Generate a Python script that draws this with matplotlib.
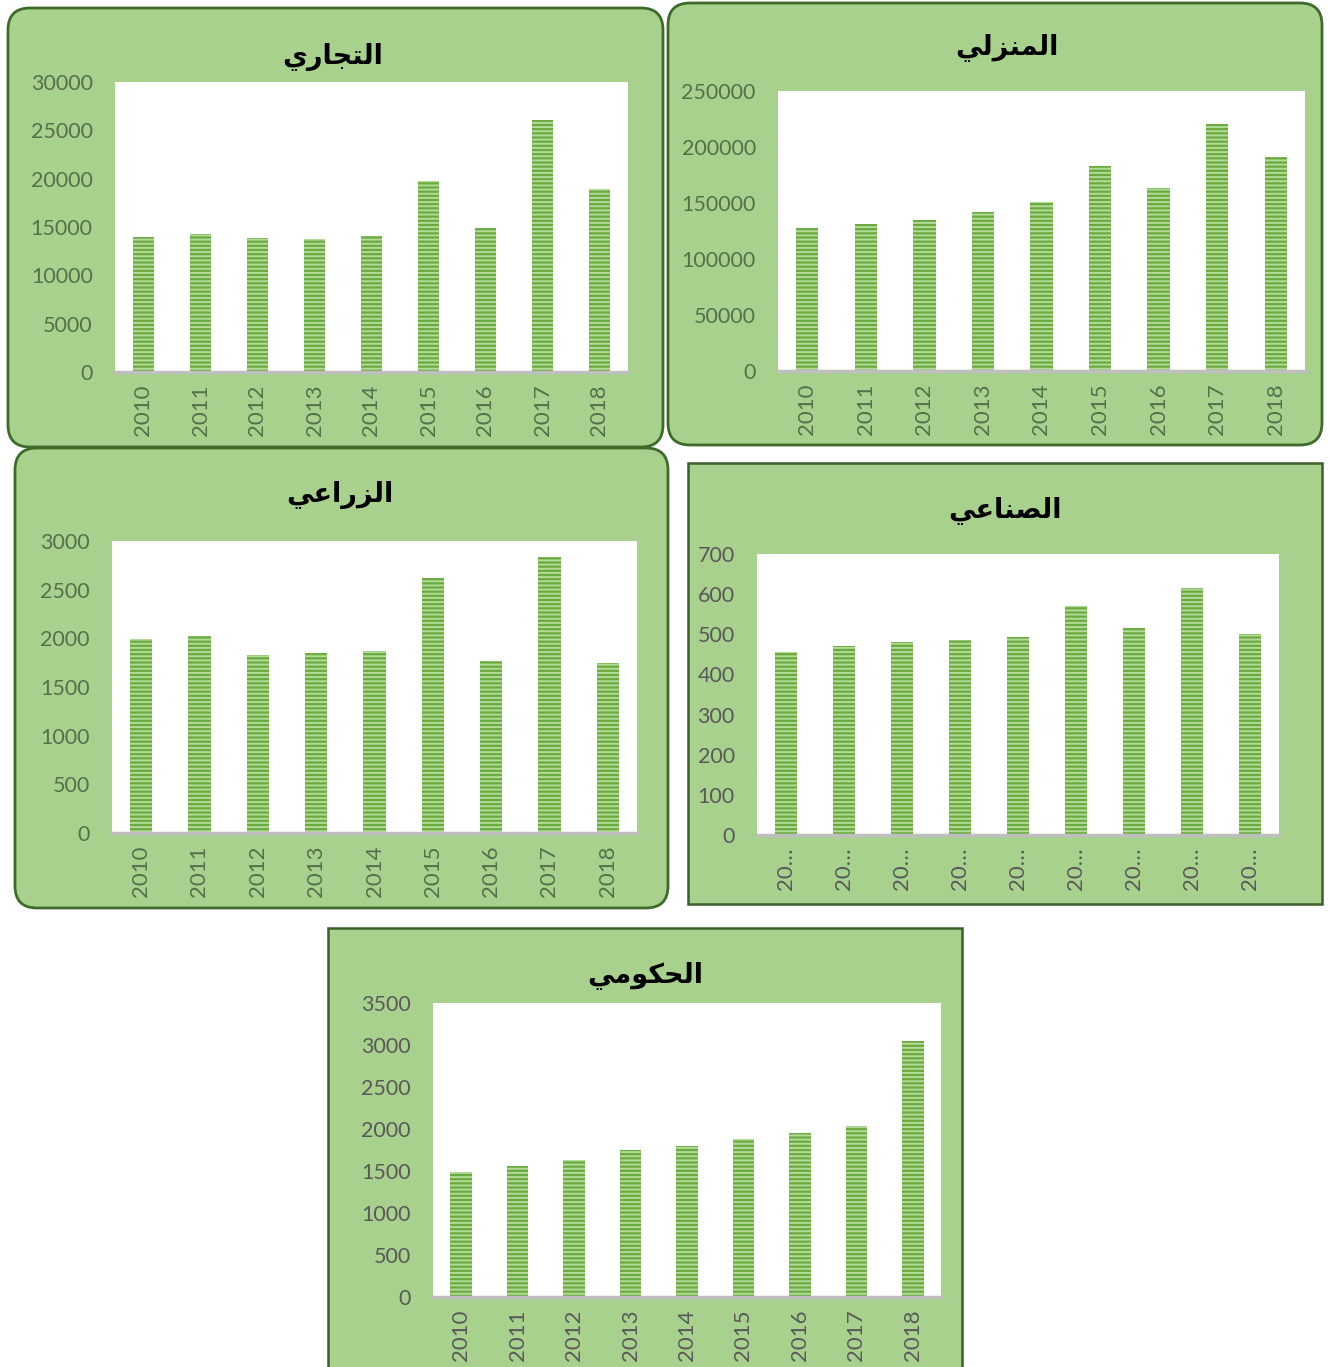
import matplotlib.pyplot as plt
from matplotlib.patches import FancyBboxPatch, Rectangle

plt.rcParams['hatch.linewidth'] = 1.4

# Datos
anios = [2010, 2011, 2012, 2013, 2014, 2015, 2016, 2017, 2018]

tijari = [13950, 14230, 13850, 13780, 14020, 19770, 14850, 26040, 18980]
manzili = [127400, 131250, 134800, 141700, 150600, 182800, 163400, 220300, 190800]
zirai = [1994, 2019, 1824, 1851, 1875, 2617, 1768, 2833, 1748]
sinai = [455, 471, 481, 487, 492, 571, 516, 616, 501]
hukumi = [1492, 1563, 1635, 1754, 1802, 1878, 1950, 2041, 3051]

titulos = ['التجاري', 'المنزلي', 'الزراعي', 'الصناعي', 'الحكومي']

# formas arabes: aislada, final, inicial, media (None = no une con la siguiente)
FORMAS = {
    'ا': ('\uFE8D', '\uFE8E', None, None),
    'ت': ('\uFE95', '\uFE96', '\uFE97', '\uFE98'),
    'ج': ('\uFE9D', '\uFE9E', '\uFE9F', '\uFEA0'),
    'ح': ('\uFEA1', '\uFEA2', '\uFEA3', '\uFEA4'),
    'د': ('\uFEA9', '\uFEAA', None, None),
    'ر': ('\uFEAD', '\uFEAE', None, None),
    'ز': ('\uFEAF', '\uFEB0', None, None),
    'ص': ('\uFEB9', '\uFEBA', '\uFEBB', '\uFEBC'),
    'ع': ('\uFEC9', '\uFECA', '\uFECB', '\uFECC'),
    'ك': ('\uFED9', '\uFEDA', '\uFEDB', '\uFEDC'),
    'ل': ('\uFEDD', '\uFEDE', '\uFEDF', '\uFEE0'),
    'م': ('\uFEE1', '\uFEE2', '\uFEE3', '\uFEE4'),
    'ن': ('\uFEE5', '\uFEE6', '\uFEE7', '\uFEE8'),
    'و': ('\uFEED', '\uFEEE', None, None),
    'ي': ('\uFEF1', '\uFEF2', '\uFEF3', '\uFEF4'),
}


def arabe(texto):
    salida = []
    for i, c in enumerate(texto):
        if c not in FORMAS:
            salida.append(c)
            continue
        prev = texto[i - 1] if i > 0 else None
        sig = texto[i + 1] if i + 1 < len(texto) else None
        une_prev = prev in FORMAS and FORMAS[prev][2] is not None
        une_sig = FORMAS[c][2] is not None and sig in FORMAS
        f = FORMAS[c]
        if une_prev and une_sig:
            salida.append(f[3])
        elif une_prev:
            salida.append(f[1])
        elif une_sig:
            salida.append(f[2])
        else:
            salida.append(f[0])
    return ''.join(reversed(salida))


W, H = 1330, 1367
fig = plt.figure(figsize=(W / 100, H / 100), dpi=100)
fig.patch.set_facecolor('white')

fondo = fig.add_axes([0, 0, 1, 1])
fondo.set_xlim(0, W)
fondo.set_ylim(H, 0)
fondo.axis('off')
fondo.set_zorder(-5)

verde = '#a9d18e'

# (caja, redondeado, area del grafico, centro titulo, datos, max, paso, etiquetas cortas, color ticks)
paneles = [
    ((8, 8, 663, 447), True, (115, 82, 628, 372), (333, 57), tijari, 30000, 5000, False, '#55704a'),
    ((668, 3, 1322, 445), True, (778, 91, 1305, 371), (1007, 47), manzili, 250000, 50000, False, '#55704a'),
    ((15, 448, 668, 908), True, (112, 541, 637, 833), (340, 495), zirai, 3000, 500, False, '#55704a'),
    ((688, 463, 1322, 904), False, (757, 554, 1279, 835), (1005, 510), sinai, 700, 100, True, '#595959'),
    ((328, 928, 962, 1375), False, (433, 1003, 941, 1297), (645, 975), hukumi, 3500, 500, False, '#595959'),
]

for n, (caja, redondo, area, tpos, valores, ymax, paso, corto, ctick) in enumerate(paneles):
    x0, y0, x1, y1 = caja
    if redondo:
        p = FancyBboxPatch((x0, y0), x1 - x0, y1 - y0,
                           boxstyle='round,pad=0,rounding_size=22',
                           facecolor=verde, edgecolor='#3f6b2a', linewidth=2)
    else:
        p = Rectangle((x0, y0), x1 - x0, y1 - y0,
                      facecolor=verde, edgecolor='#3b5e2b', linewidth=1.8)
    fondo.add_patch(p)
    fondo.text(tpos[0], tpos[1], arabe(titulos[n]), ha='center', va='center',
               fontsize=19.5, fontweight='bold', color='black', family='DejaVu Sans')

    ax0, ay0, ax1, ay1 = area
    ax = fig.add_axes([ax0 / W, 1 - ay1 / H, (ax1 - ax0) / W, (ay1 - ay0) / H])
    ax.set_facecolor('white')
    xs = list(range(len(anios)))
    ax.bar(xs, valores, width=0.38, color='#6aab3f', edgecolor='#b2da98',
           hatch='----', linewidth=0)
    ax.set_xlim(-0.5, len(anios) - 0.5)
    ax.set_ylim(0, ymax)
    ax.set_yticks(range(0, ymax + 1, paso))
    ax.set_xticks(xs)
    if corto:
        ax.set_xticklabels([str(a)[:2] + '…' for a in anios])
    else:
        ax.set_xticklabels([str(a) for a in anios])
    ax.tick_params(axis='x', rotation=90, length=0, pad=9, labelsize=16, labelcolor=ctick)
    ax.tick_params(axis='y', length=0, pad=16, labelsize=15.5, labelcolor=ctick)
    for lab in ax.get_xticklabels() + ax.get_yticklabels():
        lab.set_fontfamily('Lato')
    for s in ['top', 'left', 'right']:
        ax.spines[s].set_visible(False)
    ax.spines['bottom'].set_color('#bfbfbf')
    ax.spines['bottom'].set_linewidth(2.5)

plt.savefig('out.png', dpi=100)
